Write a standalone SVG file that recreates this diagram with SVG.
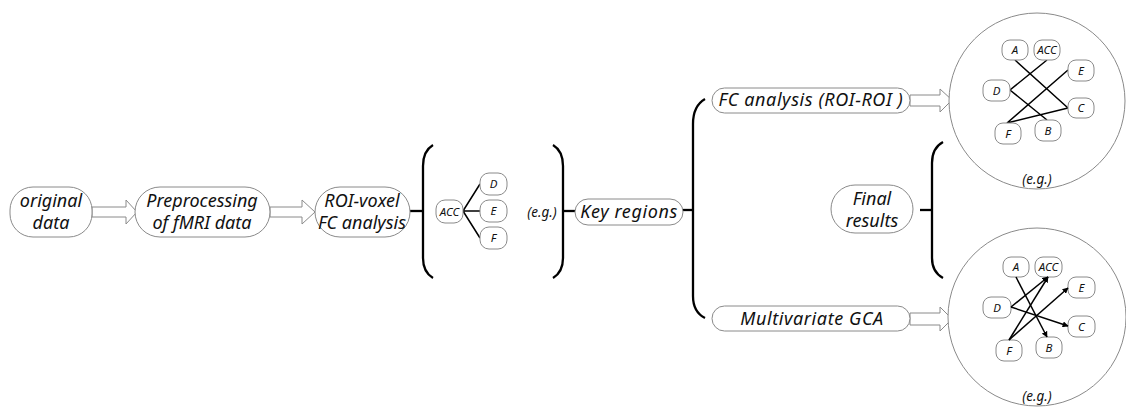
<svg xmlns="http://www.w3.org/2000/svg" width="1126" height="407" viewBox="0 0 1126 407">
<defs>
<style>
.n{fill:#fff;stroke:#8a8a8a;stroke-width:1}
.t{font-family:"Noto Sans","Open Sans",sans-serif;font-style:italic;fill:#111;text-anchor:middle}
.big{font-size:18px}
.sp{letter-spacing:0.6px}
.sm{font-size:11.5px}
.eg{font-size:13.5px}
.ha{fill:#fff;stroke:#8a8a8a;stroke-width:1}
.br{fill:none;stroke:#000;stroke-width:2.3}
.ln{fill:none;stroke:#000;stroke-width:1.5}
.circ{fill:#fff;stroke:#8a8a8a;stroke-width:1}
</style>
<marker id="ah" viewBox="0 0 10 10" refX="9" refY="5" markerWidth="6" markerHeight="6" orient="auto" markerUnits="userSpaceOnUse">
<path d="M0,0 L10,5 L0,10 z" fill="#000"/>
</marker>
</defs>

<g id="connectors">
<polygon class="ha" points="92,207 126,207 126,200 137,212 126,224 126,217 92,217"/>
<polygon class="ha" points="270,207 302,207 302,200 315,212 302,224 302,217 270,217"/>
<polygon class="ha" points="910,95 940,95 940,89 952,100 940,112 940,106 910,106"/>
<polygon class="ha" points="910,313 940,313 940,307 952,319 940,331 940,325 910,325"/>
<line class="br" x1="410" y1="211" x2="423" y2="211"/>
<path class="br" d="M433,145 Q423,151 423,166 L423,258 Q423,272 433,278"/>
<path class="br" d="M553,145 Q563,151 563,166 L563,258 Q563,272 553,278"/>
<line class="br" x1="563" y1="211" x2="575" y2="211"/>
<line class="br" x1="683" y1="210" x2="693" y2="210"/>
<path class="br" d="M705,99 Q693,106 693,124 L693,296 Q693,312 705,318"/>
<line class="br" x1="920" y1="210" x2="932" y2="210"/>
<path class="br" d="M943,142 Q932,148 932,163 L932,258 Q932,272 943,278"/>
<path class="ln" d="M463,211 L480,184 M463,211 L480,211 M463,211 L480,238"/>
</g>

<g id="original-data">
<rect class="n" x="10" y="187" width="82" height="50" rx="23"/>
<text class="t big" x="51" y="207">original</text>
<text class="t big" x="51" y="229">data</text>
</g>
<g id="preprocessing">
<rect class="n" x="135" y="187" width="135" height="50" rx="25"/>
<text class="t big" x="202" y="207">Preprocessing</text>
<text class="t big" x="202" y="229">of fMRI data</text>
</g>
<g id="roi-voxel">
<rect class="n" x="315" y="187" width="95" height="50" rx="25"/>
<text class="t big" x="362" y="207">ROI-voxel</text>
<text class="t big" x="362" y="229">FC analysis</text>
</g>
<g id="example1">
<rect class="n" x="436" y="200" width="27" height="23" rx="9"/>
<text class="t sm" x="449.5" y="216">ACC</text>
<rect class="n" x="480" y="173" width="27" height="22" rx="9"/>
<text class="t sm" x="493.5" y="188">D</text>
<rect class="n" x="480" y="200" width="27" height="22" rx="9"/>
<text class="t sm" x="493.5" y="215">E</text>
<rect class="n" x="480" y="227" width="27" height="22" rx="9"/>
<text class="t sm" x="493.5" y="242">F</text>
<text class="t eg" x="542" y="217">(e.g.)</text>
</g>
<g id="key-regions">
<rect class="n" x="575" y="199" width="108" height="26" rx="13"/>
<text class="t big sp" x="629" y="218">Key regions</text>
</g>
<g id="fc-analysis">
<rect class="n" x="712" y="88" width="198" height="25" rx="12.5"/>
<text class="t big sp" x="811" y="106">FC analysis (ROI-ROI )</text>
</g>
<g id="gca">
<rect class="n" x="712" y="306" width="198" height="25" rx="12.5"/>
<text class="t big sp" x="812" y="325">Multivariate GCA</text>
</g>
<g id="final-results">
<rect class="n" x="831" y="185" width="82" height="48" rx="24"/>
<text class="t big" x="872" y="205">Final</text>
<text class="t big" x="872" y="227">results</text>
</g>

<g id="fc-result">
<circle class="circ" cx="1037" cy="101" r="88"/>
<path class="ln" d="M1015,60 L1068,108 M1047,60 L1010,90 L1047,120 M1068,70 L1007,123 L1068,108"/>
<rect class="n" x="1002" y="40" width="26" height="20" rx="8"/>
<text class="t sm" x="1015" y="54">A</text>
<rect class="n" x="1034" y="40" width="26" height="20" rx="8"/>
<text class="t sm" x="1047" y="54">ACC</text>
<rect class="n" x="1068" y="60" width="26" height="21" rx="8"/>
<text class="t sm" x="1081" y="75">E</text>
<rect class="n" x="983" y="80" width="27" height="21" rx="8"/>
<text class="t sm" x="996.5" y="95">D</text>
<rect class="n" x="1068" y="98" width="26" height="20" rx="8"/>
<text class="t sm" x="1081" y="112">C</text>
<rect class="n" x="995" y="123" width="26" height="21" rx="8"/>
<text class="t sm" x="1008" y="138">F</text>
<rect class="n" x="1035" y="120" width="26" height="21" rx="8"/>
<text class="t sm" x="1048" y="135">B</text>
<text class="t eg" x="1037" y="184">(e.g.)</text>
</g>

<g id="gca-result">
<circle class="circ" cx="1037" cy="317" r="89"/>
<rect class="n" x="1003" y="257" width="26" height="20" rx="8"/>
<text class="t sm" x="1016" y="271">A</text>
<rect class="n" x="1035" y="257" width="27" height="20" rx="8"/>
<text class="t sm" x="1048.5" y="271">ACC</text>
<rect class="n" x="1068" y="277" width="27" height="21" rx="8"/>
<text class="t sm" x="1081.5" y="292">E</text>
<rect class="n" x="983" y="297" width="28" height="21" rx="8"/>
<text class="t sm" x="997" y="312">D</text>
<rect class="n" x="1068" y="316" width="27" height="21" rx="8"/>
<text class="t sm" x="1081.5" y="331">C</text>
<rect class="n" x="996" y="340" width="26" height="21" rx="8"/>
<text class="t sm" x="1009" y="355">F</text>
<rect class="n" x="1036" y="337" width="26" height="21" rx="8"/>
<text class="t sm" x="1049" y="352">B</text>
<g class="ln">
<line x1="1016" y1="277" x2="1047" y2="337" marker-end="url(#ah)"/>
<line x1="1011" y1="307" x2="1048" y2="277" marker-end="url(#ah)"/>
<line x1="1011" y1="307" x2="1068" y2="326" marker-end="url(#ah)"/>
<line x1="1009" y1="340" x2="1048" y2="277" marker-end="url(#ah)"/>
<line x1="1009" y1="340" x2="1068" y2="288" marker-end="url(#ah)"/>
</g>
<text class="t eg" x="1037" y="401">(e.g.)</text>
</g>
</svg>
